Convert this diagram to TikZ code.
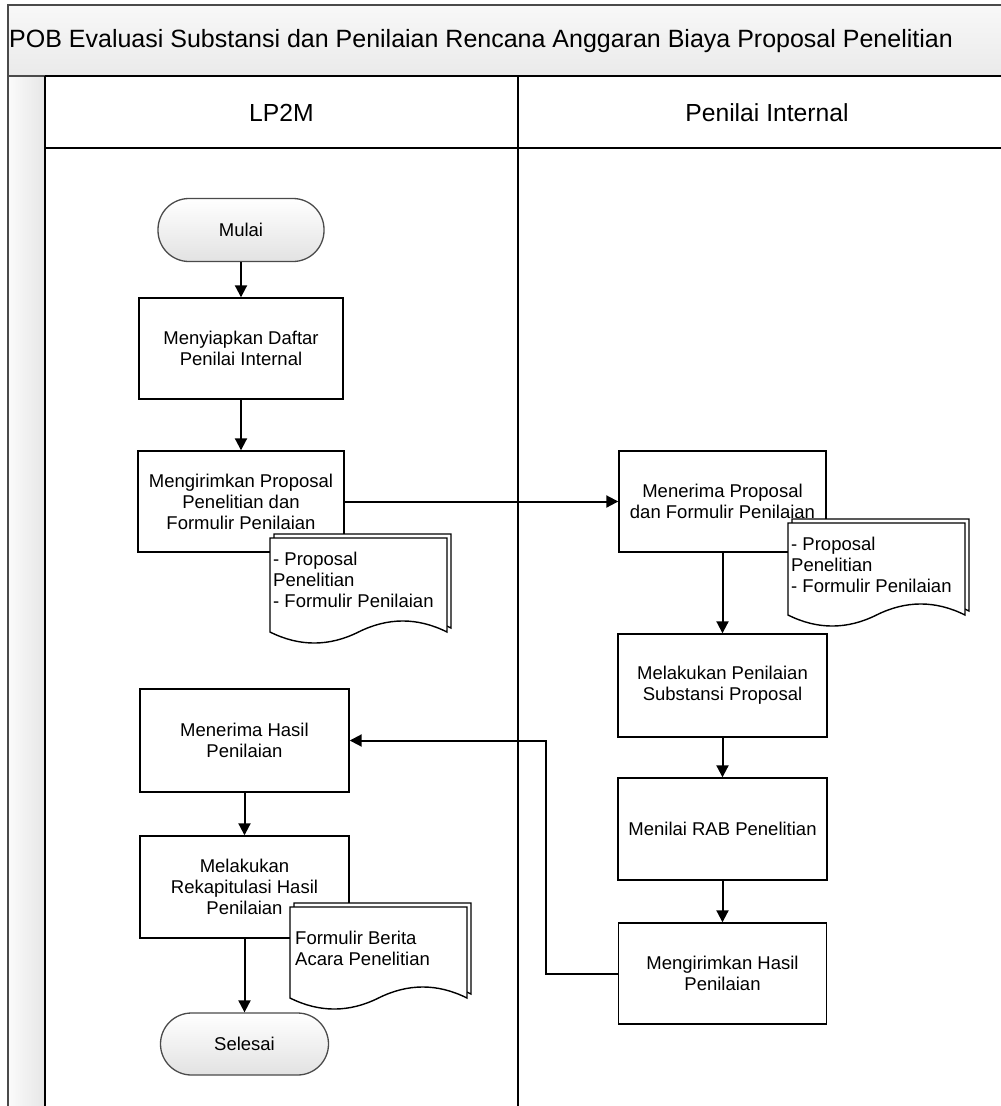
\documentclass[tikz,border=0pt]{standalone}
\usepackage{fontspec}
\setmainfont{Liberation Sans}
\usetikzlibrary{arrows.meta}
\definecolor{framec}{HTML}{4A4A4A}
\definecolor{bandtop}{HTML}{F8F8F8}
\definecolor{bandbot}{HTML}{EAEAEA}
\definecolor{stripl}{HTML}{FBFBFB}
\definecolor{stripr}{HTML}{E6E6E6}
\definecolor{termbot}{HTML}{E2E2E2}
\newcommand{\boxfont}{\fontsize{18.5}{21}\selectfont}
\newcommand{\headfont}{\fontsize{24.7}{28}\selectfont}
\newcommand{\titlefont}{\fontsize{25}{29}\selectfont}
\tikzset{
  procbox/.style={draw=black, line width=1.4pt, fill=white, align=center, font=\boxfont, inner sep=2pt},
  term/.style={draw=framec, line width=1.3pt, rounded corners=31pt, top color=white, bottom color=termbot, font=\boxfont, inner sep=2pt, minimum width=166pt, minimum height=63pt},
  arr/.style={-{Triangle[length=12pt,width=12pt]}, line width=2pt},
  docline/.style={draw=black, line width=1.4pt, fill=white},
  doctext/.style={align=left, font=\boxfont, inner sep=0pt, anchor=north west},
  pics/docpic/.style={code={
    \begin{scope}[shift={(4,-4)}]
      \filldraw[docline] (0,0) -- (177,0) -- (177,#1) .. controls (147.5,{#1-14.7}) and (118,{#1-14.7}) .. (88.5,#1) .. controls (59,{#1+14.7}) and (29.5,{#1+14.7}) .. (0,#1) -- cycle;
    \end{scope}
    \filldraw[docline] (0,0) -- (177,0) -- (177,#1) .. controls (147.5,{#1-14.7}) and (118,{#1-14.7}) .. (88.5,#1) .. controls (59,{#1+14.7}) and (29.5,{#1+14.7}) .. (0,#1) -- cycle;
  }}
}
\begin{document}
\begin{tikzpicture}[x=1pt,y=-1pt]
\useasboundingbox (0,0) rectangle (1001,1106);
\fill[white] (0,0) rectangle (1001,1106);
% pool frame
\path[top color=bandtop, bottom color=bandbot] (8,5) rectangle (1001,76);
\path[left color=stripl, right color=stripr] (8,76) rectangle (45,1106);
\draw[framec, line width=1.4pt] (8,1106) -- (8,5) -- (1001,5);
\draw[framec, line width=1.3pt] (8,76) -- (45,76);
\draw[black, line width=1.4pt] (45,76) -- (1001,76);
\draw[black, line width=1.4pt] (45,76) -- (45,1106);
\draw[black, line width=1.4pt] (518,76) -- (518,1106);
\draw[black, line width=1.4pt] (45,148) -- (1001,148);
\node[anchor=west, font=\titlefont, inner sep=0pt] (title) at (9,41) {POB Evaluasi Substansi dan Penilaian Rencana Anggaran Biaya Proposal Penelitian};
\node[font=\headfont, inner sep=0pt] (lane1) at (281.5,113) {LP2M};
\node[font=\headfont, inner sep=0pt] (lane2) at (767,113) {Penilai Internal};
% LP2M column
\node[term] (mulai) at (241,230) {Mulai};
\node[procbox, minimum width=204pt, minimum height=101pt] (siap) at (241,348.5) {Menyiapkan Daftar\\Penilai Internal};
\node[procbox, minimum width=206pt, minimum height=101pt] (kirim) at (241,501.5) {Mengirimkan Proposal\\Penelitian dan\\Formulir Penilaian};
\node[procbox, minimum width=209pt, minimum height=103pt] (th) at (244.5,740.5) {Menerima Hasil\\Penilaian};
\node[procbox, minimum width=209pt, minimum height=102pt] (rekap) at (244.5,887) {Melakukan\\Rekapitulasi Hasil\\Penilaian};
\node[term, minimum width=168pt, minimum height=62pt] (selesai) at (244.5,1044) {Selesai};
% Penilai Internal column
\node[procbox, minimum width=207pt, minimum height=101pt] (tp) at (722.5,501.5) {Menerima Proposal\\dan Formulir Penilaian};
\node[procbox, minimum width=209pt, minimum height=103pt] (nilai) at (722.5,685.5) {Melakukan Penilaian\\Substansi Proposal};
\node[procbox, minimum width=209pt, minimum height=102pt] (rab) at (722.5,829) {Menilai RAB Penelitian};
\node[procbox, minimum width=208pt, minimum height=101pt] (kh) at (722.5,973.5) {Mengirimkan Hasil\\Penilaian};
\coordinate (bend) at (546,0);
% connectors
\draw[arr] (mulai) -- (siap);
\draw[arr] (siap) -- (kirim);
\draw[arr] (kirim.east) -- (tp.west);
\draw[arr] (tp) -- (nilai);
\draw[arr] (nilai) -- (rab);
\draw[arr] (rab) -- (kh);
\draw[arr] (kh.west) -- (kh.west -| bend) |- (th.east);
\draw[arr] (th) -- (rekap);
\draw[arr] (rekap) -- (selesai);
% documents
\pic at (270,538) {docpic=94};
\node[doctext] (doc1) at (273,551.5) {- Proposal\\Penelitian\\- Formulir Penilaian};
\pic at (788,523) {docpic=92};
\node[doctext] (doc2) at (791,536.5) {- Proposal\\Penelitian\\- Formulir Penilaian};
\pic at (290,907) {docpic=91};
\node[doctext] (doc3) at (295,930.5) {Formulir Berita\\Acara Penelitian};
\end{tikzpicture}
\end{document}
